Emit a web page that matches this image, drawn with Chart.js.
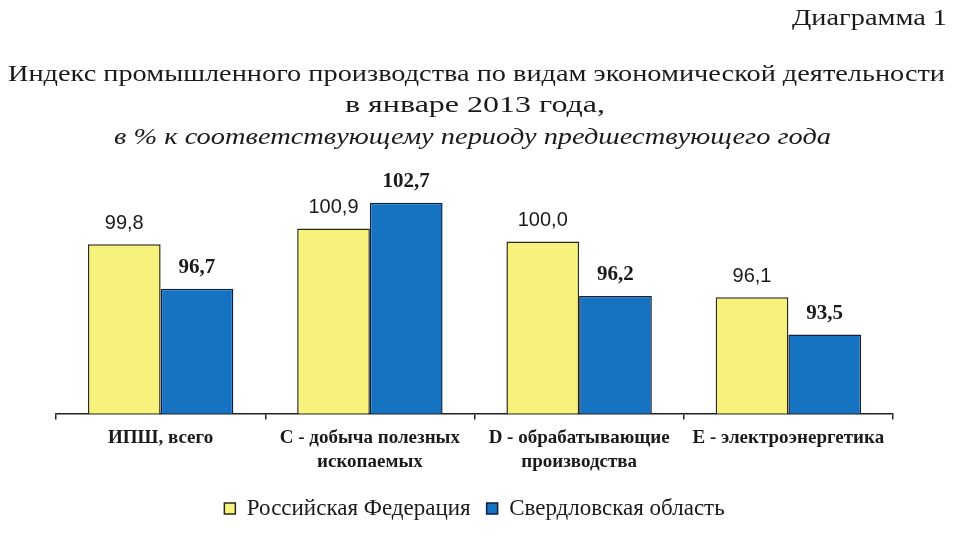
<!DOCTYPE html>
<html>
<head>
<meta charset="utf-8">
<script src="https://cdn.jsdelivr.net/npm/chart.js@4/dist/chart.umd.min.js"></script>
<style>
  html, body { margin: 0; padding: 0; background: #ffffff; }
  #wrap { width: 960px; height: 538px; }
</style>
</head>
<body>
<div id="wrap"><canvas id="c" width="960" height="538"></canvas></div>
<script>
const categories = [
  'ИПШ, всего',
  ['С - добыча полезных', 'ископаемых'],
  ['D - обрабатывающие', 'производства'],
  'E - электроэнергетика'
];
const seriesNames = ['Российская Федерация', 'Свердловская область'];
const russiaValues = [99.8, 100.9, 100.0, 96.1];
const sverdlovskValues = [96.7, 102.7, 96.2, 93.5];
const chartLabel = 'Диаграмма 1';
const titleLine1 = 'Индекс промышленного производства по видам экономической деятельности';
const titleLine2 = 'в январе 2013 года,';
const titleLine3 = 'в % к соответствующему периоду предшествующего года';

const fmt = v => v.toFixed(1).replace('.', ',');

const bgPlugin = {
  id: 'bg',
  beforeDraw(chart) {
    const ctx = chart.ctx;
    ctx.save();
    ctx.fillStyle = '#ffffff';
    ctx.fillRect(0, 0, chart.width, chart.height);
    ctx.restore();
  }
};

function drawScaled(ctx, text, font, x1, x2, y) {
  ctx.save();
  ctx.font = font;
  ctx.textBaseline = 'middle';
  ctx.textAlign = 'left';
  const w = ctx.measureText(text).width;
  const sx = (x2 - x1) / w;
  ctx.translate(x1, y);
  ctx.scale(sx, 1);
  ctx.fillText(text, 0, 0);
  ctx.restore();
}

const titlePlugin = {
  id: 'titles',
  afterDraw(chart) {
    const ctx = chart.ctx;
    ctx.fillStyle = '#1a1a1a';
    drawScaled(ctx, chartLabel, '24px "Liberation Serif"', 792, 947, 19);
    drawScaled(ctx, titleLine1, '24px "Liberation Serif"', 8, 945, 75);
    drawScaled(ctx, titleLine2, '24px "Liberation Serif"', 345, 605, 106);
    drawScaled(ctx, titleLine3, 'italic 23px "Liberation Serif"', 114, 831, 138);
  }
};

const valuePlugin = {
  id: 'values',
  afterDatasetsDraw(chart) {
    const ctx = chart.ctx;
    ctx.save();
    ctx.textAlign = 'center';
    ctx.textBaseline = 'middle';
    ctx.fillStyle = '#1a1a1a';
    chart.data.datasets.forEach((ds, di) => {
      const meta = chart.getDatasetMeta(di);
      ctx.font = di === 0 ? '20px "Liberation Sans"' : 'bold 21px "Liberation Serif"';
      meta.data.forEach((el, i) => {
        ctx.fillText(fmt(ds.data[i]), el.x, el.y - 21);
      });
    });
    ctx.restore();
  }
};

new Chart(document.getElementById('c'), {
  type: 'bar',
  data: {
    labels: categories,
    datasets: [
      {
        label: seriesNames[0],
        data: russiaValues,
        backgroundColor: '#F6F27C',
        borderColor: '#2a2a1a',
        borderWidth: 1.5,
        borderSkipped: 'bottom',
        categoryPercentage: 0.695,
        barPercentage: 1.0
      },
      {
        label: seriesNames[1],
        data: sverdlovskValues,
        backgroundColor: '#1673C2',
        borderColor: '#0f2240',
        borderWidth: 1.5,
        borderSkipped: 'bottom',
        categoryPercentage: 0.695,
        barPercentage: 1.0
      }
    ]
  },
  options: {
    responsive: false,
    animation: false,
    devicePixelRatio: 1,
    layout: { padding: { left: 56, right: 67, top: 184, bottom: 8 } },
    scales: {
      x: {
        grid: {
          display: true,
          drawOnChartArea: false,
          drawTicks: true,
          tickLength: 6,
          color: '#222222',
          lineWidth: 1.5,
          offset: true
        },
        border: { display: true, color: '#222222', width: 1.5 },
        ticks: {
          color: '#1a1a1a',
          font: { family: '"Liberation Serif"', size: 19, weight: 'bold', lineHeight: 1.25 },
          padding: 7,
          maxRotation: 0,
          autoSkip: false
        }
      },
      y: {
        display: false,
        min: 88,
        max: 104
      }
    },
    plugins: {
      legend: {
        position: 'bottom',
        labels: {
          color: '#1a1a1a',
          font: { family: '"Liberation Serif"', size: 23 },
          boxWidth: 11,
          boxHeight: 11,
          padding: 16
        }
      },
      tooltip: { enabled: false },
      title: { display: false }
    }
  },
  plugins: [bgPlugin, valuePlugin, titlePlugin]
});
</script>
</body>
</html>
